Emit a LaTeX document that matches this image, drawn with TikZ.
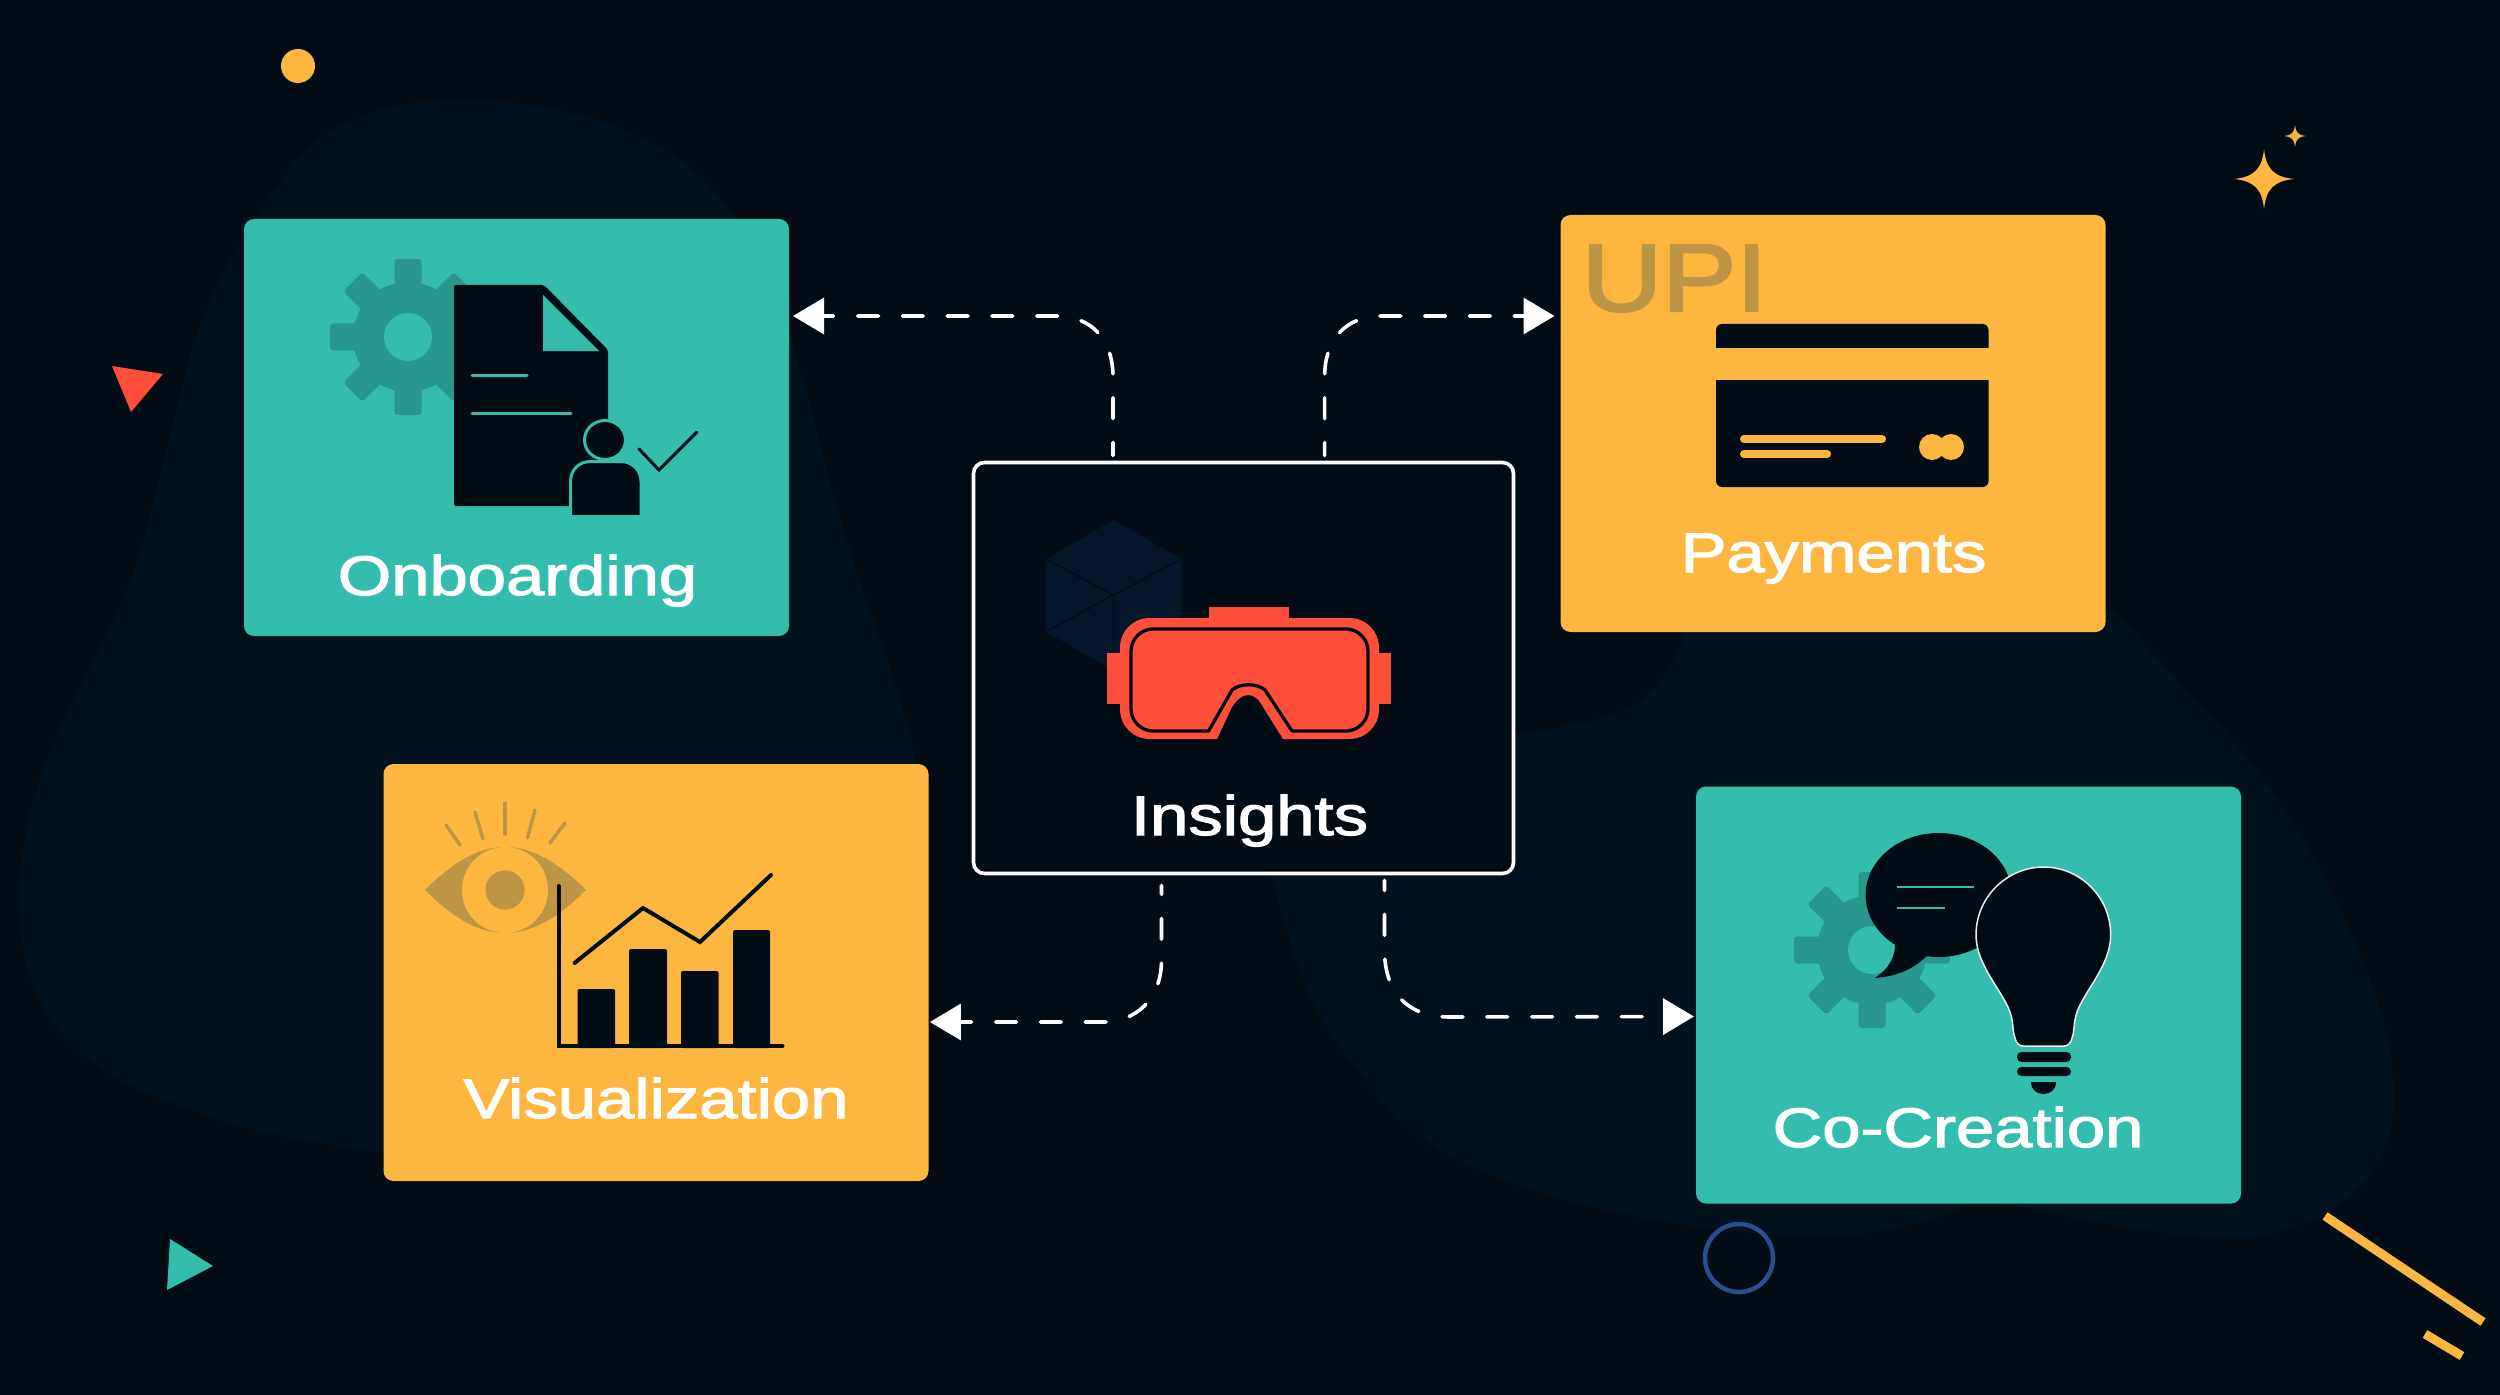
\documentclass[tikz,border=0pt]{standalone}
\usepackage{fontspec}
\setmainfont{Liberation Sans}
\newfontfamily\lblfont[FakeBold=1.9]{Liberation Sans}
\newfontfamily\upifont[FakeBold=2.5]{Liberation Sans}
\usetikzlibrary{arrows.meta,calc}
\definecolor{bgdark}{HTML}{020C14}
\definecolor{blobdark}{HTML}{02111E}
\definecolor{tealcard}{HTML}{34BCAD}
\definecolor{orangecard}{HTML}{FDB740}
\definecolor{geartone}{HTML}{28988F}
\definecolor{ghostgold}{HTML}{BD9645}
\definecolor{redgog}{HTML}{FF4E3A}
\definecolor{cubetone}{HTML}{03162A}
\definecolor{ringblue}{HTML}{27508D}
\def\px{0.02cm}
\tikzset{
  cardbox/.style={rectangle,rounded corners=0.2cm,minimum width=545*\px,minimum height=417*\px,inner sep=0,outer sep=0},
  lbl/.style={text=white,anchor=base,inner sep=0,outer sep=0,xscale=1.235,font=\lblfont\fontsize{31.7}{38}\selectfont},
  conn/.style={draw=white,line width=3.6*\px,line cap=round,dash pattern=on 11.9pt off 13.6pt,
    -{Triangle[length=0.62cm,width=0.72cm,fill=white]}},
  ink/.style={fill=bgdark},
  thinline/.style={line width=3*\px,line cap=round},
}
\newcommand{\gearmark}[3]{%
  \begin{scope}[shift={(#1,#2)}]
    \foreach \a in {0,45,...,315} {\fill[geartone,rotate=\a,rounded corners=0.06cm] (-13.5,-78) rectangle (13.5,-40);}
    \fill[geartone] (0,0) circle[radius=55];
    \fill[#3] (0,0) circle[radius=24];
  \end{scope}}
\newcommand{\sparkmark}[3]{%
  \begin{scope}[shift={(#1,#2)},scale=#3]
    \fill[orangecard] (0,-30) .. controls (2,-10) and (10,-2) .. (30,0) .. controls (10,2) and (2,10) .. (0,30) .. controls (-2,10) and (-10,2) .. (-30,0) .. controls (-10,-2) and (-2,-10) .. (0,-30) -- cycle;
  \end{scope}}
\begin{document}
\begin{tikzpicture}[x=0.02cm,y=-0.02cm]
\useasboundingbox (0,0) rectangle (2500,1395);
\fill[bgdark] (0,0) rectangle (2500,1395);
% background blobs
\fill[blobdark] (459,100) .. controls (560,100) and (650,130) .. (701,177)
  .. controls (760,240) and (780,290) .. (791,339)
  .. controls (810,400) and (820,450) .. (835,500)
  .. controls (860,590) and (890,660) .. (912,742)
  -- (920,790) -- (700,1100) -- (383,1153)
  .. controls (300,1140) and (240,1130) .. (191,1109)
  .. controls (130,1090) and (90,1065) .. (64,1036)
  .. controls (30,1000) and (18,950) .. (19,889)
  .. controls (22,830) and (40,770) .. (64,720)
  .. controls (90,670) and (115,620) .. (134,573)
  .. controls (155,500) and (175,420) .. (191,353)
  .. controls (205,310) and (222,270) .. (242,243)
  .. controls (265,200) and (290,165) .. (319,140)
  .. controls (360,110) and (410,100) .. (459,100) -- cycle;
\fill[blobdark] (1273,876) .. controls (1285,930) and (1300,980) .. (1323,1020)
  .. controls (1355,1075) and (1395,1115) .. (1435,1148)
  .. controls (1510,1190) and (1610,1215) .. (1705,1227)
  .. controls (1760,1235) and (1800,1238) .. (1840,1235)
  .. controls (1890,1232) and (1940,1220) .. (1975,1200)
  .. controls (2040,1205) and (2130,1238) .. (2246,1238)
  .. controls (2300,1232) and (2340,1210) .. (2365,1180)
  .. controls (2385,1155) and (2394,1130) .. (2394,1101)
  .. controls (2394,1020) and (2360,950) .. (2321,871)
  .. controls (2290,810) and (2250,760) .. (2207,711)
  .. controls (2170,675) and (2140,640) .. (2115,610)
  -- (1690,610) -- (1686,633)
  .. controls (1675,660) and (1665,675) .. (1655,688)
  .. controls (1640,703) and (1625,710) .. (1610,715)
  .. controls (1580,725) and (1550,730) .. (1518,733) -- cycle;
% decorations
\fill[orangecard] (298,66) circle[radius=17];
\fill[redgog] (112,366) -- (163,374) -- (131,412) -- cycle;
\fill[tealcard] (170,1239) -- (213,1266) -- (167,1290) -- cycle;
\draw[ringblue,line width=4.5*\px] (1739,1258) circle[radius=34];
\draw[orangecard,line width=9*\px] (2325,1216) -- (2483,1322);
\draw[orangecard,line width=9*\px] (2425,1334) -- (2462,1356);
\sparkmark{2264}{179}{1}
\sparkmark{2295}{136}{0.35}
% cards
\node[cardbox,fill=tealcard] (onb) at (516.5,427.5) {};
\node[cardbox,fill=orangecard] (pay) at (1833,423.5) {};
\node[cardbox,fill=orangecard] (viz) at (656,972.5) {};
\node[cardbox,fill=tealcard] (coc) at (1968.5,995) {};
\node[rectangle,rounded corners=0.22cm,draw=white,fill=bgdark,line width=3.6*\px,minimum width=540*\px,minimum height=411*\px,inner sep=0,outer sep=0] (ins) at (1243.5,668) {};
% connectors
\draw[conn,shorten <=0.14cm,dash phase=4.5pt] ($(ins.north west)+(139.5,0)$) -- (1113,377)
  .. controls (1113,340) and (1092,316) .. (1056,316) -- ($(onb.north east)+(4,97)$);
\draw[conn,shorten <=0.14cm,dash phase=4.5pt] ($(ins.north west)+(351.1,0)$) -- (1324.6,377)
  .. controls (1324.6,340) and (1345,316) .. (1382,316) -- ($(pay.north west)+(-6,101)$);
\draw[conn,shorten <=0.24cm,dash phase=6.8pt] ($(ins.south west)+(188,0)$) -- (1161.5,960)
  .. controls (1161.5,1000) and (1135,1022) .. (1103,1022) -- ($(viz.north east)+(1.4,258)$);
\draw[conn,shorten <=0.14cm,dash phase=6.2pt] ($(ins.south west)+(411,0)$) -- (1384.5,950)
  .. controls (1384.5,990) and (1405,1017) .. (1450,1017) -- ($(coc.north west)+(-2,230)$);
% onboarding icon
\gearmark{408}{337}{tealcard}
\fill[ink,rounded corners=0.04cm] (454,285) -- (544,285) -- (608,350) -- (608,506) -- (454,506) -- cycle;
\fill[tealcard] (543,295) -- (543,351) -- (599,351) -- cycle;
\draw[tealcard,thinline] (472,375) -- (527,375);
\draw[tealcard,thinline] (472,413) -- (571,413);
\filldraw[fill=bgdark,draw=tealcard,line width=3*\px] (605,440) ellipse[x radius=20.5,y radius=19.5];
\filldraw[fill=bgdark,draw=tealcard,line width=3*\px] (570.5,516.5) -- (570.5,481.5) .. controls (570.5,470) and (579,461.5) .. (590.5,461.5) -- (621,461.5) .. controls (632,461.5) and (641,470) .. (641,481.5) -- (641,516.5) -- cycle;
\draw[bgdark,line width=3*\px,line cap=round] (639,449) -- (659,470) -- (697,432);
% payments icon
\node[anchor=base,inner sep=0,outer sep=0,text=ghostgold,xscale=1.16,font=\upifont\fontsize{54.6}{60}\selectfont] (upi) at (1674.5,311) {UPI};
\fill[ink,rounded corners=0.12cm] (1716,324) rectangle (1988.5,487);
\fill[orangecard] (1716,348) rectangle (1988.5,380);
\draw[orangecard,line width=8*\px,line cap=round] (1744,439) -- (1882,439);
\draw[orangecard,line width=8*\px,line cap=round] (1744,454) -- (1827,454);
\fill[orangecard] (1932,447) circle[radius=13];
\fill[orangecard] (1951,447) circle[radius=13];
% insights icon
\fill[cubetone] (1113.5,520) -- (1181,559) -- (1181,632) -- (1113.5,670) -- (1046,632) -- (1046,559) -- cycle;
\draw[bgdark,line width=1.5*\px] (1046,559) -- (1113.5,595) -- (1181,559);
\draw[bgdark,line width=1.5*\px] (1046,632) -- (1113.5,595) -- (1113.5,670);
\fill[redgog] (1208.6,607) rectangle (1289,622);
\fill[redgog] (1107,653) rectangle (1125,704);
\fill[redgog] (1374,653) rectangle (1391,704);
\fill[redgog] (1217,739) -- (1150,739) .. controls (1133,739) and (1120,726) .. (1120,709) -- (1120,648) .. controls (1120,631) and (1133,618) .. (1150,618) -- (1349,618) .. controls (1366,618) and (1379,631) .. (1379,648) -- (1379,709) .. controls (1379,726) and (1366,739) .. (1349,739) -- (1283,739) -- (1263,707) .. controls (1255,691) and (1242,691) .. (1232,707) -- cycle;
\draw[bgdark,line width=3.3*\px,line join=round] (1208.6,731) -- (1153,731) .. controls (1141,731) and (1131,721) .. (1131,709) -- (1131,651) .. controls (1131,639) and (1141,629) .. (1153,629) -- (1346,629) .. controls (1358,629) and (1368,639) .. (1368,651) -- (1368,709) .. controls (1368,721) and (1358,731) .. (1346,731) -- (1292,731) -- (1265,690) .. controls (1257,683) and (1240,683) .. (1232,690) -- cycle;
% visualization icon
\fill[ghostgold] (425,890) .. controls (455,860) and (480,847) .. (505,847) .. controls (530,847) and (556,860) .. (586,890) .. controls (556,920) and (530,933) .. (505,933) .. controls (480,933) and (455,920) .. (425,890) -- cycle;
\fill[orangecard] (505,890) circle[radius=43];
\fill[ghostgold] (505,890) circle[radius=19.6];
\draw[ghostgold,line width=3.5*\px,line cap=round] (446,825) -- (460,845);
\draw[ghostgold,line width=3.5*\px,line cap=round] (475,812) -- (483,839);
\draw[ghostgold,line width=3.5*\px,line cap=round] (505,803) -- (505,834);
\draw[ghostgold,line width=3.5*\px,line cap=round] (535,810) -- (527.5,838);
\draw[ghostgold,line width=3.5*\px,line cap=round] (565,823) -- (550,843);
\fill[ink,rounded corners=0.04cm] (577.5,989) rectangle (615,1048);
\fill[ink,rounded corners=0.04cm] (629,949) rectangle (667,1048);
\fill[ink,rounded corners=0.04cm] (681,971) rectangle (718.6,1048);
\fill[ink,rounded corners=0.04cm] (733,930) rectangle (770,1048);
\draw[bgdark,line width=4*\px,line cap=round] (558.6,886) -- (558.6,1046) -- (782.5,1046);
\draw[bgdark,line width=4*\px,line cap=round] (574.6,963) -- (643,908) -- (700,942) -- (771,875);
% co-creation icon
\gearmark{1872}{950}{tealcard}
\fill[ink] (1938.6,895) ellipse[x radius=73,y radius=62];
\fill[ink] (1895,935) .. controls (1897,955) and (1890,968) .. (1875,978) .. controls (1900,976) and (1915,968) .. (1930,953) -- cycle;
\draw[tealcard,line width=2*\px] (1897,887) -- (1974,887);
\draw[tealcard,line width=2*\px] (1897,908) -- (1944.6,908);
\filldraw[fill=bgdark,draw=white!85!gray,line width=1.5*\px] (2043.6,867) .. controls (2007,867) and (1976,897) .. (1976,935)
  .. controls (1976,965) and (2002,990) .. (2010,1012) .. controls (2014,1024) and (2012,1030) .. (2015,1038)
  .. controls (2016,1043) and (2019,1046) .. (2023,1046) -- (2064,1046)
  .. controls (2068,1046) and (2071,1043) .. (2072,1038) .. controls (2075,1030) and (2073,1024) .. (2077,1012)
  .. controls (2085,990) and (2110.7,965) .. (2110.7,935) .. controls (2110.7,897) and (2080,867) .. (2043.6,867) -- cycle;
\fill[ink,rounded corners=0.09cm] (2017,1052) rectangle (2071,1062);
\fill[ink,rounded corners=0.09cm] (2017,1067) rectangle (2071,1076);
\fill[ink] (2031,1082) -- (2056,1082) .. controls (2056,1090) and (2050,1094) .. (2043.5,1094) .. controls (2037,1094) and (2031,1090) .. (2031,1082) -- cycle;
% labels
\node[lbl] (tonb) at (517.5,595) {Onboarding};
\node[lbl] (tpay) at (1833.5,572) {Payments};
\node[lbl] (tins) at (1249.5,835) {Insights};
\node[lbl] (tviz) at (656,1118) {Visualization};
\node[lbl] (tcoc) at (1958,1147) {Co-Creation};
\end{tikzpicture}
\end{document}
